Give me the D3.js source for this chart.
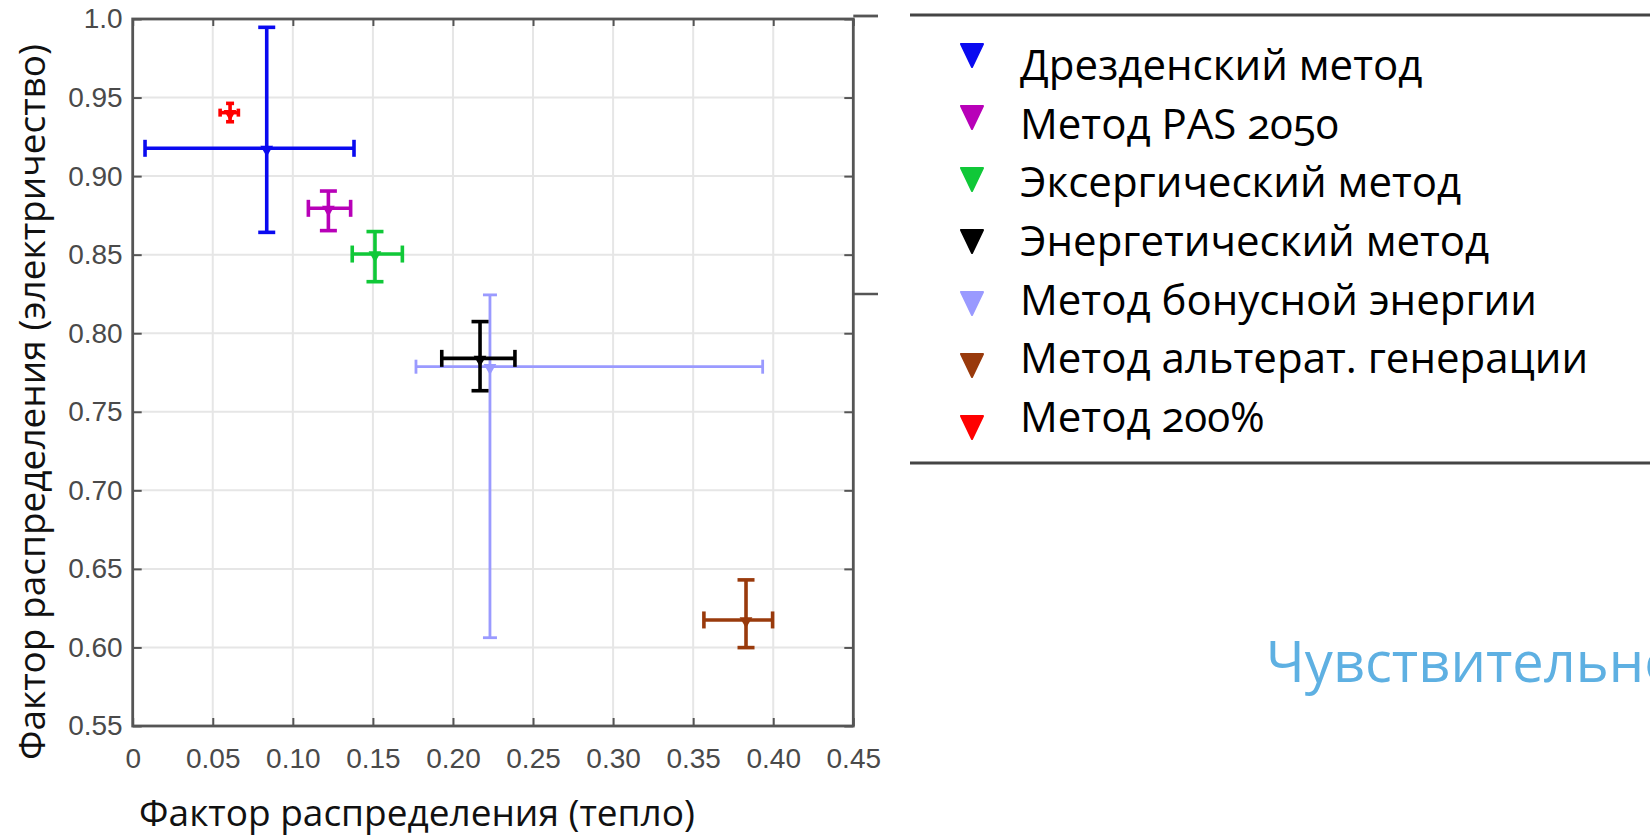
<!DOCTYPE html>
<html>
<head>
<meta charset="utf-8">
<script src="https://cdn.jsdelivr.net/npm/d3@7"></script>
<style>
  html, body { margin: 0; padding: 0; background: #fff; overflow: hidden; }
  svg { display: block; }
</style>
</head>
<body>
<svg id="chart" width="1650" height="837"></svg>
<script>
// ---- data ----
const methods = ["Дрезденский метод", "Метод PAS 2050", "Эксергический метод", "Энергетический метод",
                 "Метод бонусной энергии", "Метод альтерат. генерации", "Метод 200%"];
const heatValue = [0.0837, 0.1222, 0.1513, 0.2169, 0.2231, 0.3830, 0.0608];
const elecValue = [0.9177, 0.8795, 0.8504, 0.7840, 0.7787, 0.6175, 0.9404];
const heatLow   = [0.0077, 0.1097, 0.1371, 0.1930, 0.1769, 0.3567, 0.0546];
const heatHigh  = [0.1382, 0.1361, 0.1684, 0.2387, 0.3934, 0.3996, 0.0660];
const elecLow   = [0.8642, 0.8653, 0.8328, 0.7634, 0.6062, 0.5999, 0.9346];
const elecHigh  = [0.9947, 0.8905, 0.8647, 0.8074, 0.8244, 0.6430, 0.9463];
const xTickValues = [0, 0.05, 0.10, 0.15, 0.20, 0.25, 0.30, 0.35, 0.40, 0.45];
const xTickLabels = ["0", "0.05", "0.10", "0.15", "0.20", "0.25", "0.30", "0.35", "0.40", "0.45"];
const yTickValues = [0.55, 0.60, 0.65, 0.70, 0.75, 0.80, 0.85, 0.90, 0.95, 1.0];
const yTickLabels = ["0.55", "0.60", "0.65", "0.70", "0.75", "0.80", "0.85", "0.90", "0.95", "1.0"];
const xTitle = "Фактор распределения (тепло)";
const yTitle = "Фактор распределения (электричество)";
const sideText = "Чувствительно";

// ---- styles ----
const colors = ["#0a0af0", "#b800b8", "#10c838", "#000000", "#9a9aff", "#993a0c", "#ff0000"];
const drawOrder = [4, 0, 1, 2, 3, 5, 6];

const svg = d3.select("#chart");
const x = d3.scaleLinear().domain([0, 0.45]).range([132.7, 853.3]);
const y = d3.scaleLinear().domain([0.55, 1.0]).range([726, 19]);
const [x0, x1] = x.range();
const [y0, y1] = y.range();

// gridlines
const grid = svg.append("g");
grid.selectAll("line.vx").data(xTickValues.slice(1, -1)).join("line")
  .attr("x1", d => x(d)).attr("x2", d => x(d)).attr("y1", y1).attr("y2", y0)
  .attr("stroke", "#e6e6e6").attr("stroke-width", 2);
grid.selectAll("line.hy").data(yTickValues.slice(1, -1)).join("line")
  .attr("x1", x0).attr("x2", x1).attr("y1", d => y(d)).attr("y2", d => y(d))
  .attr("stroke", "#e6e6e6").attr("stroke-width", 2);

// axes
const tickFont = "'Liberation Sans', Arial, sans-serif";
const axB = svg.append("g").attr("transform", `translate(0,${y0})`)
  .call(d3.axisBottom(x).tickValues(xTickValues).tickFormat((d, i) => xTickLabels[i])
    .tickSizeInner(-8).tickSizeOuter(0).tickPadding(22));
const axL = svg.append("g").attr("transform", `translate(${x0},0)`)
  .call(d3.axisLeft(y).tickValues(yTickValues).tickFormat((d, i) => yTickLabels[i])
    .tickSizeInner(-9).tickSizeOuter(0).tickPadding(10));
const axT = svg.append("g").attr("transform", `translate(0,${y1})`)
  .call(d3.axisTop(x).tickValues(xTickValues).tickFormat("").tickSizeInner(-7).tickSizeOuter(0));
const axR = svg.append("g").attr("transform", `translate(${x1},0)`)
  .call(d3.axisRight(y).tickValues(yTickValues).tickFormat("").tickSizeInner(-9).tickSizeOuter(0));
[axB, axL, axT, axR].forEach(g => {
  g.select(".domain").remove();
  g.selectAll(".tick line").attr("stroke", "#555").attr("stroke-width", 2);
  g.selectAll(".tick text").attr("fill", "#4a4a4a").attr("font-family", tickFont).attr("font-size", 28);
});

// frame
svg.append("rect").attr("x", x0).attr("y", y1).attr("width", x1 - x0).attr("height", y0 - y1)
  .attr("fill", "none").attr("stroke", "#555").attr("stroke-width", 2.8);
// cropped remnants of a neighbouring box at the right edge of the plot
svg.append("line").attr("x1", x1).attr("x2", 878).attr("y1", 16).attr("y2", 16)
  .attr("stroke", "#555").attr("stroke-width", 2.8);
svg.append("line").attr("x1", x1).attr("x2", 878).attr("y1", 294).attr("y2", 294)
  .attr("stroke", "#555").attr("stroke-width", 2.5);

// error bars
const cap = 8.5;
const bars = svg.append("g");
drawOrder.forEach(i => {
  const c = colors[i];
  const g = bars.append("g").attr("stroke", c).attr("fill", c);
  const sw = i === 4 ? 2.8 : 3.6;
  const cp = i === 6 ? 4 : (i === 4 ? 7 : cap);
  const cx = x(heatValue[i]), cy = y(elecValue[i]);
  // horizontal
  g.append("line").attr("x1", x(heatLow[i])).attr("x2", x(heatHigh[i])).attr("y1", cy).attr("y2", cy).attr("stroke-width", sw);
  g.append("line").attr("x1", x(heatLow[i])).attr("x2", x(heatLow[i])).attr("y1", cy - cp).attr("y2", cy + cp).attr("stroke-width", sw);
  g.append("line").attr("x1", x(heatHigh[i])).attr("x2", x(heatHigh[i])).attr("y1", cy - cp).attr("y2", cy + cp).attr("stroke-width", sw);
  // vertical
  g.append("line").attr("x1", cx).attr("x2", cx).attr("y1", y(elecLow[i])).attr("y2", y(elecHigh[i])).attr("stroke-width", sw);
  g.append("line").attr("x1", cx - cp).attr("x2", cx + cp).attr("y1", y(elecLow[i])).attr("y2", y(elecLow[i])).attr("stroke-width", sw);
  g.append("line").attr("x1", cx - cp).attr("x2", cx + cp).attr("y1", y(elecHigh[i])).attr("y2", y(elecHigh[i])).attr("stroke-width", sw);
  // marker (small downward triangle)
  g.append("path").attr("d", d3.symbol(d3.symbolTriangle, 70)()).attr("stroke", "none")
    .attr("transform", `translate(${cx},${cy + 1}) rotate(180)`);
});

// axis titles
const titleFont = "'Open Sans', 'Noto Sans', sans-serif";
svg.append("text").attr("x", 417).attr("y", 826).attr("text-anchor", "middle")
  .attr("font-family", titleFont).attr("font-size", 37).attr("fill", "#111").text(xTitle);
svg.append("text").attr("transform", `translate(45,${402}) rotate(-90)`).attr("text-anchor", "middle")
  .attr("font-family", titleFont).attr("font-size", 37).attr("fill", "#111").text(yTitle);

// legend
const legend = svg.append("g");
legend.append("line").attr("x1", 910).attr("x2", 1650).attr("y1", 15).attr("y2", 15).attr("stroke", "#444").attr("stroke-width", 3);
legend.append("line").attr("x1", 910).attr("x2", 1650).attr("y1", 463).attr("y2", 463).attr("stroke", "#444").attr("stroke-width", 3);
const markY = d3.scalePoint().domain(d3.range(methods.length)).range([55, 427]);
const textY = d3.scalePoint().domain(d3.range(methods.length)).range([80, 432]);
methods.forEach((m, i) => {
  legend.append("path").attr("d", "M-11,-11 L11,-11 L0,12 Z").attr("fill", colors[i])
    .attr("stroke", colors[i]).attr("stroke-width", 2).attr("stroke-linejoin", "round")
    .attr("transform", `translate(972,${markY(i)})`);
  legend.append("text").attr("x", 1020).attr("y", textY(i))
    .attr("font-family", titleFont).attr("font-size", 42).attr("fill", "#000")
    .style("font-variant-numeric", "oldstyle-nums").text(m);
});

// side text (cropped at the right edge in the reference)
svg.append("text").attr("x", 1266).attr("y", 682).attr("font-family", titleFont)
  .attr("font-size", 56).attr("fill", "#5eb0e2").text(sideText);
</script>
</body>
</html>
